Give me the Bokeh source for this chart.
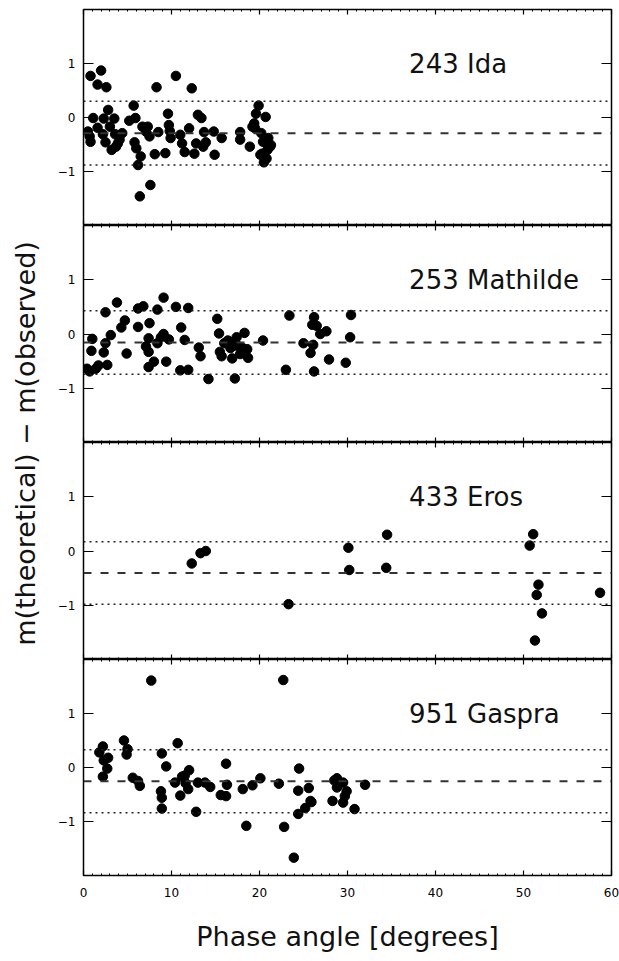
import math
from bokeh.plotting import figure
from bokeh.layouts import column, row
from bokeh.models import (LinearAxis, SingleIntervalTicker, FixedTicker, Span,
                          Label, Range1d, ColumnDataSource)
from bokeh.embed import file_html
from bokeh.resources import INLINE

# ---------------- data ----------------
names = ["243 Ida", "253 Mathilde", "433 Eros", "951 Gaspra"]

ida_phase = [0.8, 2.0, 1.6, 2.6, 0.5, 0.7, 0.8, 1.1, 1.6, 2.3, 2.8, 2.2, 2.5, 3.0, 3.5,
             3.2, 3.7, 4.1, 3.6, 4.4, 3.9, 5.2, 5.7, 5.9, 5.8, 6.0, 6.2, 6.5, 6.7, 7.1,
             7.3, 7.5, 6.4, 7.6, 8.3, 8.1, 8.5, 9.3, 9.6, 9.7, 9.8, 9.9, 10.5, 11.0, 11.2,
             11.5, 12.0, 12.3, 12.6, 12.8, 13.0, 13.4, 13.7, 13.6, 13.9, 14.8, 14.9, 15.7,
             17.8, 17.8, 18.9, 19.2, 19.4, 19.6, 19.9, 19.5, 20.2, 20.4, 20.3, 20.7, 21.0,
             21.2, 21.3, 20.8, 20.9, 20.5, 20.1]
ida_resid = [0.77, 0.87, 0.61, 0.56, -0.26, -0.35, -0.45, -0.01, -0.19, -0.02, 0.14, -0.31,
             -0.46, -0.17, -0.02, -0.60, -0.54, -0.41, -0.31, -0.29, -0.48, -0.06, 0.22,
             -0.01, -0.46, -0.57, -0.88, -0.72, -0.17, -0.26, -0.17, -0.35, -1.46, -1.25,
             0.56, -0.68, -0.27, -0.66, 0.07, -0.14, -0.25, -0.38, 0.77, -0.32, -0.48,
             -0.64, -0.20, 0.54, -0.67, -0.48, 0.05, -0.01, -0.27, -0.54, -0.46, -0.26,
             -0.69, -0.38, -0.27, -0.41, -0.54, -0.17, -0.11, 0.07, 0.22, -0.20, -0.29,
             -0.45, -0.67, 0.01, -0.38, -0.54, -0.51, -0.76, -0.60, -0.83, -0.69]

mat_phase = [0.4, 0.7, 1.0, 0.9, 1.4, 1.7, 2.5, 2.5, 2.3, 2.7, 3.1, 3.8, 4.3, 4.7, 4.9,
             6.2, 6.2, 6.8, 7.1, 7.4, 7.5, 7.4, 7.4, 8.0, 8.4, 8.4, 8.8, 9.1, 9.1, 9.4,
             9.7, 10.5, 11.0, 11.1, 11.5, 11.9, 11.9, 13.1, 13.3, 14.2, 15.2, 15.4, 15.5,
             15.7, 16.0, 16.4, 16.7, 16.9, 17.2, 17.3, 17.4, 17.6, 17.8, 18.3, 18.1, 18.6,
             18.7, 20.4, 23.0, 23.4, 25.0, 25.8, 26.1, 26.2, 26.0, 26.5, 26.2, 26.9, 27.6,
             27.9, 29.8, 30.3, 30.4]
mat_resid = [-0.64, -0.69, -0.09, -0.31, -0.64, -0.58, 0.40, -0.17, -0.34, -0.57, -0.02,
             0.58, 0.12, 0.25, -0.36, 0.47, 0.13, 0.51, -0.23, -0.08, 0.20, -0.33, -0.61,
             -0.51, 0.45, -0.17, -0.06, 0.67, 0.00, -0.51, -0.10, 0.50, -0.67, 0.12, -0.11,
             0.48, -0.66, -0.25, -0.41, -0.83, 0.28, 0.01, -0.33, -0.41, -0.17, -0.12,
             -0.26, -0.45, -0.82, -0.18, -0.06, -0.23, -0.37, 0.02, -0.26, -0.28, -0.44,
             -0.12, -0.66, 0.34, -0.17, -0.35, -0.20, 0.31, 0.17, 0.15, -0.69, 0.00, 0.05,
             -0.47, -0.53, -0.06, 0.35]

eros_phase = [12.3, 13.3, 13.9, 23.3, 30.1, 30.2, 34.5, 34.4, 51.1, 50.7, 51.7, 51.5,
              52.1, 51.3, 58.7]
eros_resid = [-0.23, -0.04, 0.00, -0.98, 0.06, -0.35, 0.30, -0.31, 0.31, 0.10, -0.62,
              -0.81, -1.15, -1.65, -0.77]

gas_phase = [1.8, 2.2, 2.3, 2.2, 2.8, 2.7, 4.6, 5.0, 4.9, 5.6, 6.2, 6.4, 7.7, 8.9, 8.8,
             8.9, 8.9, 9.4, 10.4, 10.7, 11.0, 11.2, 11.6, 11.9, 11.5, 12.0, 12.8, 13.0,
             13.8, 14.4, 15.6, 16.2, 16.2, 16.3, 18.1, 18.5, 19.2, 20.1, 22.2, 22.7, 22.8,
             23.9, 24.5, 24.4, 24.4, 25.2, 25.6, 25.8, 25.9, 28.3, 28.5, 28.8, 28.8, 29.5,
             29.5, 29.7, 29.9, 30.8, 32.0]
gas_resid = [0.28, 0.39, 0.13, -0.17, 0.18, -0.02, 0.50, 0.34, 0.24, -0.19, -0.25, -0.34,
             1.61, 0.26, -0.44, -0.56, -0.76, 0.02, -0.28, 0.45, -0.52, -0.17, -0.29,
             -0.40, -0.15, -0.05, -0.82, -0.28, -0.28, -0.36, -0.51, -0.53, 0.07, -0.32,
             -0.40, -1.08, -0.33, -0.20, -0.30, 1.62, -1.10, -1.67, -0.02, -0.43, -0.86,
             -0.75, -0.38, -0.62, -0.64, -0.62, -0.24, -0.20, -0.37, -0.28, -0.65, -0.53,
             -0.44, -0.77, -0.32]

mean_level = [-0.29, -0.155, -0.405, -0.255]
upper_level = [0.30, 0.43, 0.17, 0.33]
lower_level = [-0.88, -0.74, -0.98, -0.84]

x_ticks_interval = 10
y_ticks = [-1, 0, 1]
y_tick_labels = {-1: "\u22121", 0: "0", 1: "1"}

phases = [ida_phase, mat_phase, eros_phase, gas_phase]
resids = [ida_resid, mat_resid, eros_resid, gas_resid]

FONT = "DejaVu Sans"
frame_heights = [216, 217, 217, 216]


def hide_labels(axis):
    axis.major_label_text_font_size = "0px"
    axis.major_label_text_color = None
    axis.major_label_text_alpha = 0
    axis.major_label_standoff = 0


panels = []
for i in range(4):
    first = i == 0
    last = i == 3
    p = figure(frame_width=528, frame_height=frame_heights[i],
               x_range=Range1d(0, 60), y_range=Range1d(-2, 2),
               x_axis_location=None, y_axis_location=None,
               output_backend="svg", toolbar_location=None,
               min_border_left=38, min_border_right=8,
               min_border_top=9 if first else 0,
               min_border_bottom=86 if last else 0,
               background_fill_color="white", border_fill_color="white")
    p.grid.visible = False
    p.outline_line_color = "black"
    p.outline_line_width = 1.5
    p.outline_line_alpha = 1.0

    # x axes (bottom and top), ticks inward
    for loc in ("below", "above"):
        ax = LinearAxis(ticker=SingleIntervalTicker(interval=x_ticks_interval, num_minor_ticks=10))
        ax.major_tick_in = 5
        ax.major_tick_out = 0
        ax.minor_tick_in = 2
        ax.minor_tick_out = 0
        ax.major_tick_line_color = "black"
        ax.minor_tick_line_color = "black"
        ax.major_tick_line_width = 1.2
        ax.minor_tick_line_width = 1
        ax.axis_line_color = None
        if loc == "below" and last:
            ax.major_label_text_font = FONT
            ax.major_label_text_font_size = "12px"
            ax.major_label_text_color = "black"
            ax.major_label_standoff = 12
            ax.axis_label = "Phase angle [degrees]"
            ax.axis_label_text_font = FONT
            ax.axis_label_text_font_size = "27px"
            ax.axis_label_text_font_style = "normal"
            ax.axis_label_text_color = "#111111"
            ax.axis_label_standoff = 21
        else:
            hide_labels(ax)
        p.add_layout(ax, loc)

    # y axes (left and right)
    for loc in ("left", "right"):
        ay = LinearAxis(ticker=FixedTicker(ticks=y_ticks, minor_ticks=[]))
        ay.major_tick_in = 10
        ay.major_tick_out = 0
        ay.minor_tick_in = 0
        ay.minor_tick_out = 0
        ay.major_tick_line_color = "black"
        ay.major_tick_line_width = 1.2
        ay.axis_line_color = None
        if loc == "left":
            ay.major_label_overrides = y_tick_labels
            ay.major_label_text_font = FONT
            ay.major_label_text_font_size = "12px"
            ay.major_label_text_color = "black"
            ay.major_label_standoff = 8
            ay.major_label_orientation = "horizontal"
        else:
            hide_labels(ay)
        p.add_layout(ay, loc)

    # reference lines
    p.add_layout(Span(location=mean_level[i], dimension="width", line_color="#333333",
                      line_width=2, line_dash="8 9"))
    for lev in (upper_level[i], lower_level[i]):
        p.add_layout(Span(location=lev, dimension="width", line_color="#222222",
                          line_width=1.5, line_dash="2 4"))

    src = ColumnDataSource(dict(x=phases[i], y=resids[i]))
    p.scatter("x", "y", source=src, size=9.5, color="black")

    p.add_layout(Label(x=37, y=1.0, text=names[i], text_font=FONT,
                       text_font_size="26px", text_color="#111111",
                       text_baseline="alphabetic", text_align="left"))
    panels.append(p)

# left column holding the shared y-axis title
lab = figure(width=45, height=961, x_range=Range1d(0, 45), y_range=Range1d(961, 0),
             x_axis_location=None, y_axis_location=None, output_backend="svg",
             toolbar_location=None, min_border=0, outline_line_color=None,
             background_fill_color="white", border_fill_color="white")
lab.grid.visible = False
lab.add_layout(Label(x=25, y=443, text="m(theoretical) \u2212 m(observed)",
                     angle=math.pi / 2, text_align="center", text_baseline="middle",
                     text_font=FONT, text_font_size="27px", text_color="#111111"))

layout = row(lab, column(*panels, spacing=0), spacing=0)

open("out.html", "w").write(file_html(layout, INLINE))
